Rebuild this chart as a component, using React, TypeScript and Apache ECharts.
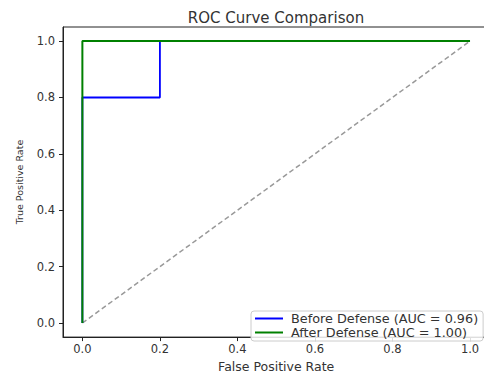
import React, { useEffect, useRef } from "react";
import * as echarts from "echarts";

const beforeFpr = [0, 0, 0.2, 0.2, 1];
const beforeTpr = [0, 0.8, 0.8, 1, 1];
const afterFpr = [0, 0, 1];
const afterTpr = [0, 1, 1];
const chanceFpr = [0, 1];
const chanceTpr = [0, 1];
const tickValues = [0, 0.2, 0.4, 0.6, 0.8, 1.0];
const legendNames = ["Before Defense (AUC = 0.96)", "After Defense (AUC = 1.00)"];

const zip = (xs: number[], ys: number[]) => xs.map((x, i) => [x, ys[i]]);

export default function App() {
  const ref = useRef<HTMLDivElement>(null);
  useEffect(() => {
    if (!ref.current) return;
    const chart = echarts.init(ref.current, undefined, { renderer: "svg" });
    const font = "DejaVu Sans";
    const axisCommon = {
      type: "value" as const,
      min: -0.05,
      max: 1.05,
      splitLine: { show: false },
      axisLine: { show: true, onZero: false, lineStyle: { color: "#222", width: 1 } },
      axisTick: { show: true, inside: false, length: 4, customValues: tickValues, lineStyle: { color: "#222" } },
      axisLabel: {
        customValues: tickValues,
        formatter: (v: number) => v.toFixed(1),
        color: "#333",
        fontFamily: font,
        fontSize: 11.5,
      },
      nameLocation: "middle" as const,
      nameTextStyle: { color: "#333", fontFamily: font, fontSize: 12.5 },
    };
    chart.setOption({
      animation: false,
      backgroundColor: "#fff",
      title: {
        text: "ROC Curve Comparison",
        left: 276,
        textAlign: "center",
        top: 10,
        padding: 0,
        textStyle: { color: "#333", fontFamily: font, fontSize: 15, fontWeight: "normal", lineHeight: 15 },
      },
      grid: { left: 63, right: 0.6, top: 27, bottom: 31, show: true, borderColor: "#222", borderWidth: 1, backgroundColor: "transparent" },
      xAxis: {
        ...axisCommon,
        name: "False Positive Rate",
        nameGap: 19,
        axisLabel: { ...axisCommon.axisLabel, margin: 6 },
      },
      yAxis: {
        ...axisCommon,
        name: "True Positive Rate",
        nameGap: 38.5,
        nameTextStyle: { ...axisCommon.nameTextStyle, fontSize: 9.5 },
        axisLabel: { ...axisCommon.axisLabel, margin: 8 },
      },
      legend: {
        data: legendNames.map((n) => ({ name: n, icon: "rect" })),
        orient: "vertical",
        left: 251,
        top: 311,
        itemWidth: 28,
        itemHeight: 2,
        itemGap: 1,
        padding: [1, 5, 2, 4],
        borderColor: "#ccc",
        borderWidth: 1,
        borderRadius: 3,
        backgroundColor: "rgba(255,255,255,0.85)",
        textStyle: { color: "#333", fontFamily: font, fontSize: 12.8, lineHeight: 13, padding: [0, 0, 0, 3] },
      },
      series: [
        {
          name: "chance",
          type: "line",
          data: zip(chanceFpr, chanceTpr),
          symbol: "none",
          lineStyle: { color: "#999", width: 1.5, type: [5, 3] },
          z: 1,
        },
        {
          name: legendNames[0],
          type: "line",
          data: zip(beforeFpr, beforeTpr),
          symbol: "none",
          color: "#0000ff",
          lineStyle: { color: "#0000ff", width: 1.8 },
          z: 2,
        },
        {
          name: legendNames[1],
          type: "line",
          data: zip(afterFpr, afterTpr),
          symbol: "none",
          color: "#008000",
          lineStyle: { color: "#008000", width: 2 },
          z: 3,
        },
      ],
    });
    return () => chart.dispose();
  }, []);
  return (
    <div style={{ position: "absolute", left: 0, top: 0, width: 484, height: 378, overflow: "hidden" }}>
      <div ref={ref} style={{ width: 490, height: 378 }} />
    </div>
  );
}
